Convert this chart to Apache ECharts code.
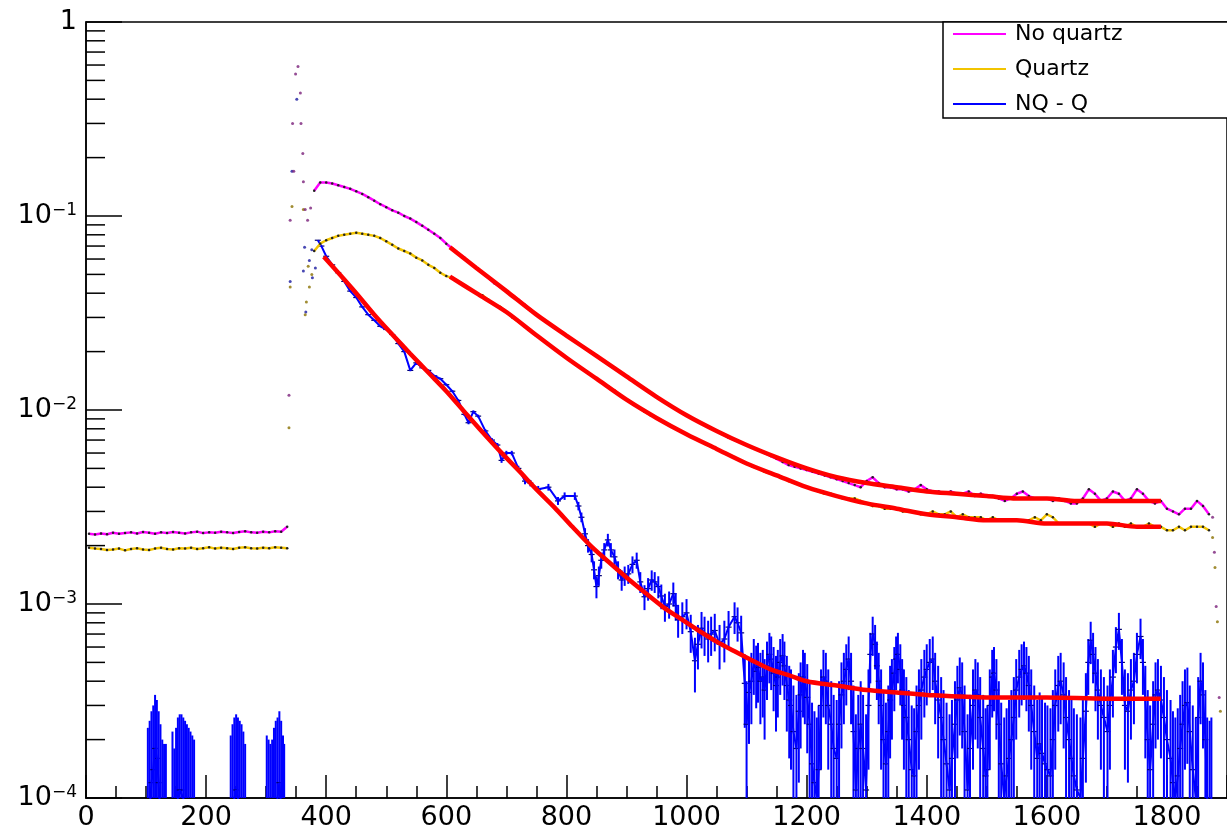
<!DOCTYPE html>
<html>
<head>
<meta charset="utf-8">
<script src="https://cdn.jsdelivr.net/npm/echarts@6.0.0/dist/echarts.min.js"></script>
<style>
  html, body { margin: 0; padding: 0; background: #fff; }
  #chart { width: 1227px; height: 832px; }
</style>
</head>
<body>
<div id="chart"></div>
<script>
/* 数据：x 为时间（bin 中心），y 为归一化计数 */
const binStep = 10;

// 前段平台（x = 5 ... 335）
const flatStart = 5;
const noQuartzFlat = [2.30e-3, 2.28e-3, 2.31e-3, 2.29e-3, 2.33e-3, 2.30e-3, 2.32e-3, 2.34e-3, 2.31e-3, 2.35e-3,
  2.33e-3, 2.30e-3, 2.34e-3, 2.32e-3, 2.35e-3, 2.33e-3, 2.31e-3, 2.34e-3, 2.36e-3, 2.32e-3,
  2.34e-3, 2.33e-3, 2.36e-3, 2.34e-3, 2.32e-3, 2.35e-3, 2.37e-3, 2.34e-3, 2.33e-3, 2.36e-3,
  2.34e-3, 2.37e-3, 2.36e-3, 2.50e-3];
const quartzFlat = [1.95e-3, 1.93e-3, 1.92e-3, 1.90e-3, 1.91e-3, 1.93e-3, 1.89e-3, 1.92e-3, 1.94e-3, 1.91e-3,
  1.90e-3, 1.93e-3, 1.95e-3, 1.92e-3, 1.91e-3, 1.94e-3, 1.93e-3, 1.95e-3, 1.92e-3, 1.94e-3,
  1.96e-3, 1.93e-3, 1.95e-3, 1.94e-3, 1.92e-3, 1.95e-3, 1.96e-3, 1.94e-3, 1.93e-3, 1.95e-3,
  1.94e-3, 1.96e-3, 1.95e-3, 1.94e-3];

// 主体（x = 380 ... 1870）
const mainStart = 380;
const noQuartzMain = [
  0.135, 0.149, 0.149, 0.147, 0.144, 0.141, 0.138, 0.134, 0.130, 0.125,
  0.120, 0.115, 0.111, 0.107, 0.104, 0.100, 0.097, 0.093, 0.089, 0.085,
  0.081, 0.077, 0.072, 0.068, 0.064, 0.061, 0.057, 0.054, 0.051, 0.048,
  0.045, 0.043, 0.041, 0.039, 0.037, 0.035, 0.033, 0.031, 0.0295, 0.028,
  0.0265, 0.0253, 0.0242, 0.0231, 0.0220, 0.0209, 0.0199, 0.0190, 0.0180, 0.0171,
  0.0164, 0.0156, 0.0149, 0.0142, 0.0135, 0.0129, 0.0123, 0.0117, 0.0112, 0.0107,
  0.0102, 0.0098, 0.0094, 0.0090, 0.0087, 0.0084, 0.0081, 0.0078, 0.0075, 0.0072,
  0.0070, 0.0068, 0.0066, 0.0064, 0.0062, 0.0060, 0.0058, 0.0056, 0.0054, 0.0052,
  0.0051, 0.0050, 0.0049, 0.0048, 0.0047, 0.0046, 0.0045, 0.0044, 0.0043, 0.0042,
  0.0041, 0.0040, 0.0043, 0.0045, 0.0042, 0.0040, 0.0040, 0.0039, 0.0039, 0.0038,
  0.0039, 0.0041, 0.0039, 0.0038, 0.0038, 0.0037, 0.0038, 0.0037, 0.0037, 0.0038,
  0.0036, 0.0037, 0.0036, 0.0036, 0.0035, 0.0034, 0.0035, 0.0037, 0.0038, 0.0036,
  0.0035, 0.0035, 0.0035, 0.0034, 0.0035, 0.0034, 0.0033, 0.0033, 0.0035, 0.0039,
  0.0037, 0.0034, 0.0035, 0.0038, 0.0037, 0.0034, 0.0035, 0.0039, 0.0037, 0.0034,
  0.0033, 0.0034, 0.0031, 0.0030, 0.0029, 0.0031, 0.0031, 0.0034, 0.0032, 0.0029];
const quartzMain = [
  0.066, 0.072, 0.075, 0.077, 0.079, 0.080, 0.081, 0.082, 0.081, 0.080,
  0.079, 0.077, 0.074, 0.071, 0.068, 0.066, 0.064, 0.061, 0.059, 0.056,
  0.054, 0.051, 0.049, 0.048, 0.046, 0.044, 0.042, 0.040, 0.039, 0.037,
  0.035, 0.034, 0.032, 0.030, 0.0285, 0.0270, 0.0256, 0.0243, 0.0230, 0.0218,
  0.0207, 0.0196, 0.0186, 0.0177, 0.0168, 0.0160, 0.0152, 0.0145, 0.0138, 0.0132,
  0.0126, 0.0119, 0.0113, 0.0108, 0.0103, 0.0098, 0.0094, 0.0091, 0.0087, 0.0084,
  0.0081, 0.0078, 0.0075, 0.0072, 0.0070, 0.0067, 0.0065, 0.0063, 0.0061, 0.0059,
  0.0057, 0.0055, 0.0053, 0.0051, 0.0050, 0.0048, 0.0047, 0.0046, 0.0045, 0.0043,
  0.0042, 0.0041, 0.0040, 0.0039, 0.0038, 0.0037, 0.0037, 0.0036, 0.0035, 0.0035,
  0.0035, 0.0034, 0.0033, 0.0032, 0.0032, 0.0031, 0.0031, 0.0031, 0.0030, 0.0030,
  0.0030, 0.0029, 0.0029, 0.0030, 0.0029, 0.0029, 0.0030, 0.0028, 0.0029, 0.0028,
  0.0028, 0.0028, 0.0027, 0.0028, 0.0027, 0.0027, 0.0027, 0.0027, 0.0027, 0.0027,
  0.0028, 0.0027, 0.0029, 0.0028, 0.0026, 0.0026, 0.0026, 0.0026, 0.0026, 0.0026,
  0.0025, 0.0026, 0.0026, 0.0025, 0.0026, 0.0025, 0.0026, 0.0025, 0.0025, 0.0026,
  0.0025, 0.0025, 0.0024, 0.0024, 0.0025, 0.0024, 0.0025, 0.0025, 0.0025, 0.0024];

// 尖峰和末端的散点 [x, y]
const noQuartzSpike = [[338, 0.0119], [340, 0.095], [344, 0.30], [346, 0.17], [349, 0.54], [353, 0.59],
  [357, 0.43], [358, 0.30], [361, 0.21], [362, 0.15], [365, 0.108], [369, 0.095], [374, 0.11],
  [1876, 0.0028], [1879, 0.00185], [1882, 0.00097], [1887, 0.00033]];
const quartzSpike = [[338, 0.0081], [340, 0.043], [343, 0.112], [362, 0.108], [365, 0.031],
  [367, 0.036], [370, 0.055], [372, 0.043], [376, 0.050],
  [1876, 0.0022], [1880, 0.00154], [1884, 0.00081], [1889, 0.00028]];
const nqqSpike = [[340, 0.046], [343, 0.17], [351, 0.40], [362, 0.052], [364, 0.069], [366, 0.032],
  [372, 0.059], [376, 0.067], [377, 0.048], [382, 0.054]];

// NQ - Q 前段的几簇（中心值）
const nqqClusters = [
  [[103, 0.7e-4], [106, 0.9e-4], [109, 1.2e-4], [112, 1.4e-4], [115, 1.8e-4], [118, 1.6e-4],
   [121, 1.2e-4], [124, 0.8e-4], [127, 0.4e-4], [130, 0.3e-4], [133, 0.3e-4]],
  [[144, 0.6e-4], [147, 0.2e-4], [150, 0.7e-4], [153, 1.0e-4], [156, 1.1e-4], [159, 1.1e-4], [162, 1.0e-4],
   [165, 0.9e-4], [168, 0.8e-4], [171, 0.7e-4], [174, 0.6e-4], [177, 0.5e-4], [180, 0.4e-4]],
  [[241, 0.5e-4], [244, 0.8e-4], [247, 1.0e-4], [250, 1.1e-4], [253, 1.0e-4], [256, 0.9e-4], [259, 0.8e-4],
   [262, 0.6e-4], [265, 0.3e-4]],
  [[301, 0.5e-4], [304, 0.4e-4], [307, 0.3e-4], [310, 0.4e-4], [313, 0.7e-4], [316, 0.9e-4], [319, 1.0e-4],
   [322, 1.2e-4], [325, 0.9e-4], [328, 0.5e-4], [330, 0.3e-4]]
];
const nqqMain = [
  [386, 0.075], [392, 0.070], [400, 0.062], [410, 0.056], [420, 0.051], [430, 0.046], [440, 0.041],
  [450, 0.038], [460, 0.034], [470, 0.031], [480, 0.029], [490, 0.027], [500, 0.026], [510, 0.0245],
  [520, 0.022], [530, 0.020], [540, 0.016], [550, 0.0175], [560, 0.0165], [570, 0.016], [580, 0.015],
  [590, 0.0145], [600, 0.0135], [610, 0.0125], [620, 0.0112], [630, 0.0095], [637, 0.0086],
  [645, 0.0098], [653, 0.0093], [665, 0.0078], [676, 0.0070], [685, 0.0066], [692, 0.0055],
  [700, 0.0060], [709, 0.0060], [720, 0.0050], [731, 0.0043], [740, 0.0042], [753, 0.0039],
  [770, 0.0040], [786, 0.0034], [797, 0.0036], [814, 0.0036], [820, 0.0032], [825, 0.0028],
  [831, 0.0023], [836, 0.0020], [842, 0.0018], [846, 0.0015], [850, 0.00123], [854, 0.0014],
  [858, 0.00168], [863, 0.0019], [869, 0.00214], [874, 0.0019], [880, 0.00175], [886, 0.0015],
  [892, 0.00133], [897, 0.0014], [903, 0.00143], [910, 0.0016], [917, 0.00168], [923, 0.0013],
  [930, 0.00109], [936, 0.0012], [942, 0.00133], [947, 0.0013], [953, 0.00123], [958, 0.0011],
  [964, 0.00097], [971, 0.0010], [978, 0.00113], [982, 0.00098], [986, 0.00083], [993, 0.00086],
  [1000, 0.00090], [1007, 0.00072], [1014, 0.00051], [1019, 0.00062], [1025, 0.00075], [1030, 0.00070],
  [1036, 0.00066], [1041, 0.00070], [1047, 0.00073], [1055, 0.00062], [1063, 0.00066], [1070, 0.00076],
  [1080, 0.00086], [1085, 0.00080], [1091, 0.00071], [1097, 0.00039],
  [1100, 0.00024], [1104, 0.00035], [1108, 0.00040], [1112, 0.00050], [1116, 0.00045], [1119, 0.00047],
  [1123, 0.00040], [1127, 0.00042], [1130, 0.00036], [1134, 0.00048], [1138, 0.00055], [1141, 0.00052],
  [1145, 0.00044], [1149, 0.00038], [1152, 0.00042], [1156, 0.00050], [1160, 0.00054], [1163, 0.00048],
  [1167, 0.00038], [1171, 0.00032], [1174, 0.00030], [1178, 0.00022], [1183, 0.00018], [1187, 0.00028],
  [1190, 0.00034], [1194, 0.00042], [1197, 0.00040], [1201, 0.00033], [1205, 0.00024], [1209, 0.00015],
  [1213, 0.00012], [1217, 0.00010], [1220, 0.00014], [1224, 0.00030], [1228, 0.00042], [1232, 0.00040],
  [1236, 0.00030], [1241, 0.00024], [1245, 0.00018], [1250, 0.00016], [1254, 0.00024], [1258, 0.00034],
  [1262, 0.00040], [1266, 0.00046], [1270, 0.00052], [1274, 0.00040], [1278, 0.00022], [1282, 0.00011],
  [1286, 0.00018], [1290, 0.00024], [1294, 0.00018], [1299, 0.00011], [1303, 0.00030], [1306, 0.00055],
  [1310, 0.00070], [1314, 0.00062], [1317, 0.00048], [1320, 0.00040], [1324, 0.00030], [1328, 0.00020],
  [1332, 0.00015], [1336, 0.00022], [1339, 0.00032], [1342, 0.00036], [1346, 0.00044], [1349, 0.00052],
  [1352, 0.00055], [1356, 0.00046], [1359, 0.00036], [1362, 0.00030], [1366, 0.00026], [1370, 0.00020],
  [1375, 0.00014], [1379, 0.00013], [1383, 0.00022], [1387, 0.00030], [1391, 0.00036], [1396, 0.00042],
  [1400, 0.00046], [1405, 0.00050], [1410, 0.00052], [1414, 0.00040], [1419, 0.00032], [1424, 0.00026],
  [1428, 0.00020], [1433, 0.00015], [1438, 0.00011], [1442, 0.00016], [1447, 0.00024], [1451, 0.00032],
  [1455, 0.00037], [1459, 0.00034], [1463, 0.00022], [1468, 0.00011], [1472, 0.00018], [1477, 0.00030],
  [1481, 0.00036], [1485, 0.00034], [1489, 0.00026], [1494, 0.00018], [1498, 0.00013], [1501, 0.00014],
  [1505, 0.00030], [1509, 0.00042], [1512, 0.00044], [1516, 0.00036], [1520, 0.00024], [1524, 0.00015],
  [1529, 0.00010], [1533, 0.00013], [1537, 0.00016], [1541, 0.00020], [1545, 0.00026], [1549, 0.00036],
  [1554, 0.00042], [1558, 0.00046], [1562, 0.00048], [1566, 0.00044], [1570, 0.00038], [1574, 0.00030],
  [1579, 0.00022], [1584, 0.00016], [1588, 0.00019], [1592, 0.00017], [1597, 0.00015], [1601, 0.00014],
  [1606, 0.00013], [1610, 0.00020], [1614, 0.00030], [1619, 0.00038], [1623, 0.00040], [1628, 0.00034],
  [1632, 0.00026], [1637, 0.00020], [1641, 0.00016], [1645, 0.00013], [1650, 0.00011], [1656, 0.00010],
  [1660, 0.00016], [1665, 0.00028], [1669, 0.00050], [1673, 0.00065], [1677, 0.00055], [1681, 0.00044],
  [1685, 0.00036], [1690, 0.00030], [1695, 0.00026], [1701, 0.00022], [1705, 0.00030], [1710, 0.00042],
  [1715, 0.00060], [1720, 0.00074], [1725, 0.00050], [1730, 0.00030], [1735, 0.00028], [1740, 0.00036],
  [1745, 0.00040], [1750, 0.00055], [1756, 0.00068], [1760, 0.00050], [1764, 0.00032], [1768, 0.00020],
  [1772, 0.00014], [1777, 0.00024], [1781, 0.00034], [1785, 0.00036], [1790, 0.00032], [1795, 0.00026],
  [1800, 0.00020], [1806, 0.00016], [1810, 0.00012], [1814, 0.00010], [1818, 0.00013], [1822, 0.00018],
  [1826, 0.00024], [1830, 0.00030], [1834, 0.00031], [1838, 0.00022], [1843, 0.00014], [1848, 0.00010],
  [1852, 0.00026], [1856, 0.00040], [1860, 0.00034], [1864, 0.00020], [1867, 0.00010], [1871, 0.00009],
  [1874, 0.00010]];
const nqqErr = 1.6e-4;

// 拟合曲线
const fitNoQuartz = [[606, 0.069], [650, 0.054], [700, 0.041], [750, 0.031], [800, 0.0242], [850, 0.0190],
  [900, 0.0149], [950, 0.0117], [1000, 0.0094], [1050, 0.0078], [1100, 0.0066], [1150, 0.0057],
  [1200, 0.0050], [1250, 0.0045], [1300, 0.0042], [1350, 0.0040], [1400, 0.0038], [1450, 0.0037],
  [1500, 0.0036], [1550, 0.0035], [1600, 0.0035], [1650, 0.0034], [1700, 0.0034], [1750, 0.0034],
  [1790, 0.0034]];
const fitQuartz = [[606, 0.0487], [650, 0.040], [700, 0.032], [750, 0.0243], [800, 0.0186], [850, 0.0145],
  [900, 0.0113], [950, 0.0091], [1000, 0.0075], [1050, 0.0063], [1100, 0.0053], [1150, 0.0046],
  [1200, 0.0040], [1250, 0.0036], [1300, 0.0033], [1350, 0.0031], [1400, 0.0029], [1450, 0.0028],
  [1500, 0.0027], [1550, 0.0027], [1600, 0.0026], [1650, 0.0026], [1700, 0.0026], [1750, 0.0025],
  [1790, 0.0025]];
const fitNqq = [[396, 0.0617], [420, 0.051], [450, 0.040], [480, 0.031], [510, 0.0245], [540, 0.0195],
  [570, 0.0156], [600, 0.0125], [630, 0.0098], [660, 0.0077], [690, 0.0061], [720, 0.0049],
  [750, 0.0039], [780, 0.00315], [810, 0.0025], [840, 0.0020], [870, 0.00165], [900, 0.00137],
  [930, 0.00115], [960, 0.00097], [990, 0.00084], [1020, 0.00073], [1050, 0.00064], [1080, 0.00057],
  [1110, 0.00051], [1140, 0.00046], [1170, 0.00043], [1200, 0.00040], [1250, 0.00038], [1300, 0.00036],
  [1350, 0.00035], [1400, 0.00034], [1500, 0.00033], [1600, 0.00033], [1700, 0.000325], [1790, 0.000325]];

// 坐标轴
const xTicks = { min: 0, max: 1900, interval: 200 };
const yDecades = [1e-4, 1e-3, 1e-2, 1e-1, 1];
const yMinorMult = [2, 3, 4, 5, 6, 7, 8, 9];

const MAGENTA = '#ff00ff';
const GOLD = '#f2c400';
const BLUE = '#0000ff';
const RED = '#ff0000';
const FONT = 'DejaVu Sans';

function toPairs(start, values) {
  return values.map((v, i) => [start + i * binStep, v]);
}

const yMinor = [];
yDecades.slice(0, -1).forEach(d => yMinorMult.forEach(m => yMinor.push([0, d * m])));

const chart = echarts.init(document.getElementById('chart'));

const lineBase = { type: 'line', animation: false, clip: true, silent: true };

const series = [];
/* NQ - Q */
series.push(Object.assign({}, lineBase, {
  name: 'NQ - Q', data: nqqMain, showSymbol: false,
  lineStyle: { color: BLUE, width: 2 }, itemStyle: { color: BLUE }, z: 2
}));
nqqClusters.forEach(c => series.push(Object.assign({}, lineBase, {
  name: 'NQ - Q', data: c, showSymbol: false,
  lineStyle: { color: BLUE, width: 2 }, itemStyle: { color: BLUE }, z: 2
})));
// 误差棒 + bin 中心短横线
series.push({
  name: 'nqqErr', type: 'custom', animation: false, silent: true, z: 2,
  data: nqqMain.concat(...nqqClusters),
  renderItem: function (params, api) {
    const x = api.value(0), v = api.value(1);
    const cs = params.coordSys;
    const c = api.coord([x, v]);
    let top = api.coord([x, v + nqqErr])[1];
    const low = v - nqqErr;
    let bot = low > 0 ? api.coord([x, low])[1] : cs.y + cs.height;
    bot = Math.min(bot, cs.y + cs.height);
    top = Math.max(top, cs.y);
    if (!(top < bot)) return;
    const children = [{ type: 'line', shape: { x1: c[0], y1: top, x2: c[0], y2: bot },
      style: { stroke: BLUE, lineWidth: 2 } }];
    if (c[1] < cs.y + cs.height) {
      children.push({ type: 'line', shape: { x1: c[0] - 3, y1: c[1], x2: c[0] + 3, y2: c[1] },
        style: { stroke: '#000070', lineWidth: 1.2 } });
    }
    return { type: 'group', children: children };
  }
});
series.push({
  name: 'NQ - Q', type: 'scatter', animation: false, silent: true, data: nqqSpike,
  symbolSize: 3, itemStyle: { color: '#1a1aa0' }, z: 3
});

/* Quartz */
series.push(Object.assign({}, lineBase, {
  name: 'Quartz', data: toPairs(flatStart, quartzFlat), symbol: 'circle', symbolSize: 2.5,
  showAllSymbol: true, lineStyle: { color: GOLD, width: 2.5 }, itemStyle: { color: '#222' }, z: 3
}));
series.push(Object.assign({}, lineBase, {
  name: 'Quartz', data: toPairs(mainStart, quartzMain), symbol: 'circle', symbolSize: 2.5,
  showAllSymbol: true, lineStyle: { color: GOLD, width: 2.5 }, itemStyle: { color: '#222' }, z: 3
}));
series.push({
  name: 'Quartz', type: 'scatter', animation: false, silent: true, data: quartzSpike,
  symbolSize: 3, itemStyle: { color: '#8a7000' }, z: 3
});

/* No quartz */
series.push(Object.assign({}, lineBase, {
  name: 'No quartz', data: toPairs(flatStart, noQuartzFlat), symbol: 'circle', symbolSize: 2.5,
  showAllSymbol: true, lineStyle: { color: MAGENTA, width: 2.5 }, itemStyle: { color: '#222' }, z: 4
}));
series.push(Object.assign({}, lineBase, {
  name: 'No quartz', data: toPairs(mainStart, noQuartzMain), symbol: 'circle', symbolSize: 2.5,
  showAllSymbol: true, lineStyle: { color: MAGENTA, width: 2.5 }, itemStyle: { color: '#222' }, z: 4
}));
series.push({
  name: 'No quartz', type: 'scatter', animation: false, silent: true, data: noQuartzSpike,
  symbolSize: 3, itemStyle: { color: '#7a207a' }, z: 4
});

/* 拟合 */
[fitNoQuartz, fitQuartz, fitNqq].forEach((f, i) => series.push(Object.assign({}, lineBase, {
  name: 'fit' + i, data: f, smooth: 0.3, showSymbol: false,
  lineStyle: { color: RED, width: 4.5 }, z: 6
})));

/* y 轴次刻度 */
series.push({
  name: 'yMinor', type: 'custom', animation: false, silent: true, z: 10, data: yMinor,
  renderItem: function (params, api) {
    const p = api.coord([api.value(0), api.value(1)]);
    return { type: 'line', shape: { x1: p[0], y1: p[1], x2: p[0] + 19, y2: p[1] },
      style: { stroke: '#000', lineWidth: 1.5 } };
  }
});

const legendIcon = 'path://M0,0 H53 V2 H0 Z';

chart.setOption({
  backgroundColor: '#fff',
  animation: false,
  grid: { left: 86, top: 22, right: -3, bottom: 34, show: true, borderColor: '#000', borderWidth: 1.5 },
  legend: {
    left: 943, top: 22, orient: 'vertical',
    padding: [1, 160, 3, 10], itemGap: 13, itemWidth: 53, itemHeight: 14,
    backgroundColor: '#fff', borderColor: '#000', borderWidth: 1.5,
    selectedMode: false,
    textStyle: { fontFamily: FONT, fontSize: 22, lineHeight: 22, color: '#000', padding: [0, 0, 0, 4] },
    data: [
      { name: 'No quartz', icon: legendIcon, itemStyle: { color: MAGENTA } },
      { name: 'Quartz', icon: legendIcon, itemStyle: { color: GOLD } },
      { name: 'NQ - Q', icon: legendIcon, itemStyle: { color: BLUE } }
    ]
  },
  xAxis: {
    type: 'value', min: xTicks.min, max: xTicks.max, interval: xTicks.interval,
    axisLine: { lineStyle: { color: '#000', width: 1.5 } },
    axisTick: { inside: true, length: 23, lineStyle: { color: '#000', width: 1.5 } },
    minorTick: { show: true, splitNumber: 4, length: 12, lineStyle: { color: '#000', width: 1.5 } },
    splitLine: { show: false },
    axisLabel: {
      fontFamily: FONT, fontSize: 27, color: '#000', margin: 6, showMaxLabel: false,
      formatter: v => String(v)
    }
  },
  yAxis: {
    type: 'log', logBase: 10, min: yDecades[0], max: yDecades[yDecades.length - 1], splitNumber: 4,
    axisLine: { lineStyle: { color: '#000', width: 1.5 } },
    axisTick: { inside: true, length: 36, lineStyle: { color: '#000', width: 1.5 } },
    splitLine: { show: false },
    axisLabel: {
      margin: 9, color: '#000',
      formatter: function (v) {
        const e = Math.round(Math.log10(v));
        return e === 0 ? '{b|1}' : '{b|10}{s|\u2212' + (-e) + '}';
      },
      rich: {
        b: { fontFamily: FONT, fontSize: 27, color: '#000' },
        s: { fontFamily: FONT, fontSize: 17, color: '#000', verticalAlign: 'top', padding: [0, 0, 10, 0] }
      }
    }
  },
  series: series
});
</script>
</body>
</html>
